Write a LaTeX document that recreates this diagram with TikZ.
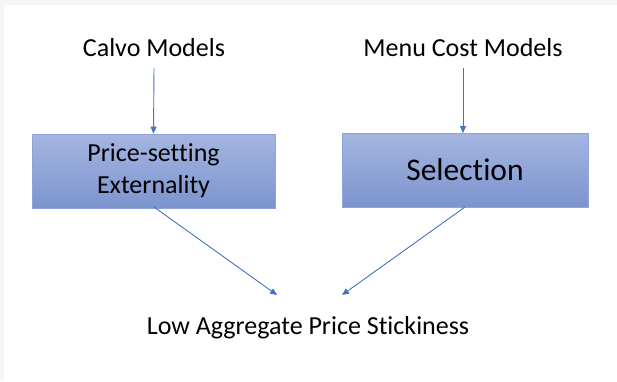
\documentclass[tikz,border=0pt]{standalone}
\usepackage{fontspec}
\setmainfont[Ligatures={NoCommon},RawFeature={-liga}]{Carlito}
\usetikzlibrary{arrows.meta}
\definecolor{arr}{HTML}{4472C4}
\definecolor{btop}{HTML}{A4B5E0}
\definecolor{bbot}{HTML}{7C94CF}
\definecolor{bedge}{HTML}{8DA4D8}
\definecolor{frame}{HTML}{F6F6F6}
\begin{document}
\begin{tikzpicture}[x=1pt,y=-1pt,
  lbl/.style={inner sep=0pt,font=\fontsize{26}{30}\selectfont},
  boxnode/.style={draw=bedge,line width=0.8pt,top color=btop,bottom color=bbot,minimum width=243pt,minimum height=74pt,inner sep=0pt,align=center},
  conn/.style={draw=arr,line width=0.9pt,-{Triangle[length=7pt,width=6pt]}}]
\useasboundingbox (0,0) rectangle (617,381);
\fill[frame] (0,0) rectangle (617,5);
\fill[frame] (0,0) rectangle (4,381);
\node[lbl] (calvo) at (154,48) {Calvo Models};
\node[lbl] (menu) at (463,48) {Menu Cost Models};
\node[boxnode,font=\fontsize{26}{32}\selectfont] (pse) at (153.5,171) {Price-setting\\Externality};
\node[boxnode,font=\fontsize{31.5}{36}\selectfont,minimum width=246pt] (sel) at (465,170) {Selection};
\node[lbl] (low) at (308,328) {Low Aggregate Price Stickiness};
\coordinate (ltip) at (277,295);
\coordinate (rtip) at (342,295);
\draw[conn] (154,68) -- (pse.north);
\draw[conn] (463,68) -- (463,133);
\draw[conn] (154,207) -- (ltip);
\draw[conn] (465,207) -- (rtip);
\end{tikzpicture}
\end{document}
